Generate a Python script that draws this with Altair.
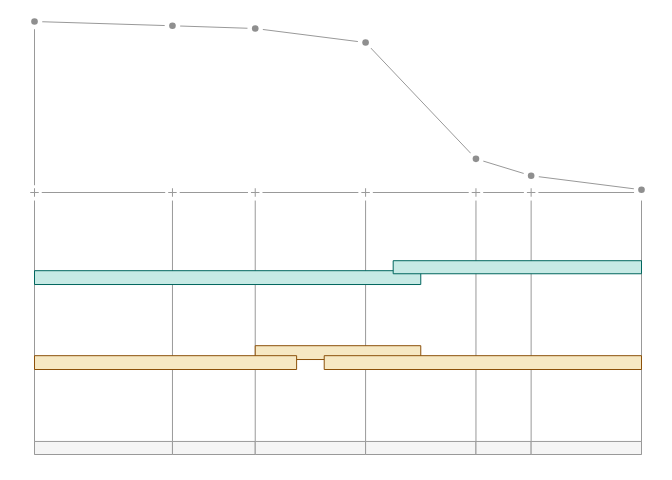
import altair as alt
import pandas as pd

# stage positions along the x axis
stages = [0, 2.5, 4, 6, 8, 9, 11]
# line values at each stage
survival = [100, 97.5, 95.9, 87.7, 19.7, 9.8, 1.6]

# teal intervals (drawn in this order)
teal_start = [0, 6.5]
teal_end = [7, 11]
teal_top = [28.2, 24.3]
teal_bottom = [33.6, 29.4]

# tan intervals (drawn in this order)
tan_start = [4, 0, 5.25]
tan_end = [7, 4.75, 11]
tan_top = [57.5, 61.4, 61.4]
tan_bottom = [62.9, 66.8, 66.8]

# bottom strip and guide rules (lower panel units)
strip_top = 94.9
strip_bottom = 100
rule_top = 0.8

GRAY = "#999999"
TEAL_FILL, TEAL_STROKE = "#c7eae5", "#01665e"
TAN_FILL, TAN_STROKE = "#f6e8c3", "#8c510a"
STRIP_FILL = "#f5f5f5"

xs = alt.Scale(domain=[0, 11], nice=False, zero=False)
ys_up = alt.Scale(domain=[0, 100], range=[180, 9], nice=False, zero=False)
ys_lo = alt.Scale(domain=[0, 100], range=[186, 442], nice=False, zero=False)

line_df = pd.DataFrame({"x": stages, "v": survival})
base_df = pd.DataFrame({"x": [stages[0]], "x2": [stages[-1]], "v": [0]})
yaxis_df = pd.DataFrame({"x": [stages[0]], "v": [0], "v2": [100]})
cross_df = pd.DataFrame({"x": stages, "v": [0] * len(stages)})

X = alt.X("x:Q", scale=xs, axis=None)
YU = alt.Y("v:Q", scale=ys_up, axis=None)

baseline = alt.Chart(base_df).mark_rule(color=GRAY, strokeWidth=1).encode(
    x=X, x2="x2:Q", y=YU)
yaxis = alt.Chart(yaxis_df).mark_rule(color=GRAY, strokeWidth=1).encode(
    x=X, y=YU, y2="v2:Q")
line = alt.Chart(line_df).mark_line(color=GRAY, strokeWidth=1).encode(x=X, y=YU)
cross_path = "M-1,0H1M0,-1V1"
cross_halo = alt.Chart(cross_df).mark_point(
    shape=cross_path, size=72, filled=False, stroke="white", strokeWidth=6,
    strokeCap="square", opacity=1).encode(x=X, y=YU)
cross = alt.Chart(cross_df).mark_point(
    shape=cross_path, size=72, filled=False, stroke=GRAY, strokeWidth=1,
    opacity=1).encode(x=X, y=YU)
pt_halo = alt.Chart(line_df).mark_point(
    shape="circle", size=44, filled=True, fill="white", stroke="white",
    strokeWidth=9, opacity=1).encode(x=X, y=YU)
pts = alt.Chart(line_df).mark_point(
    shape="circle", size=44, filled=True, fill="#8f8f8f", strokeWidth=0,
    opacity=1).encode(x=X, y=YU)

upper = alt.layer(baseline, yaxis, line, cross_halo, cross, pt_halo, pts)

YL = alt.Y("top:Q", scale=ys_lo, axis=None)

rules_df = pd.DataFrame({"x": stages, "top": [rule_top] * len(stages),
                         "bottom": [strip_bottom] * len(stages)})
strip_df = pd.DataFrame({"x": stages[:-1], "x2": stages[1:],
                         "top": [strip_top] * (len(stages) - 1),
                         "bottom": [strip_bottom] * (len(stages) - 1)})
teal_df = pd.DataFrame({"x": teal_start, "x2": teal_end, "top": teal_top,
                        "bottom": teal_bottom, "o": list(range(len(teal_start)))})
tan_df = pd.DataFrame({"x": tan_start, "x2": tan_end, "top": tan_top,
                       "bottom": tan_bottom, "o": list(range(len(tan_start)))})

rules = alt.Chart(rules_df).mark_rule(color=GRAY, strokeWidth=1).encode(
    x=X, y=YL, y2="bottom:Q")
strip = alt.Chart(strip_df).mark_rect(fill=STRIP_FILL, stroke=GRAY, strokeWidth=1).encode(
    x=X, x2="x2:Q", y=YL, y2="bottom:Q")
teal = alt.Chart(teal_df).mark_rect(fill=TEAL_FILL, stroke=TEAL_STROKE, strokeWidth=1).encode(
    x=X, x2="x2:Q", y=YL, y2="bottom:Q", order="o:Q")
tan = alt.Chart(tan_df).mark_rect(fill=TAN_FILL, stroke=TAN_STROKE, strokeWidth=1).encode(
    x=X, x2="x2:Q", y=YL, y2="bottom:Q", order="o:Q")

lower = alt.layer(rules, strip, teal, tan)

chart = alt.layer(upper, lower).resolve_scale(y="independent").properties(
    width=607, height=448, autosize="none",
    padding={"left": 26.5, "top": 4.5, "right": 16, "bottom": 4},
    background="white",
).configure_view(stroke=None)

chart.save("out.html", embed_options={"renderer": "svg", "actions": False})
